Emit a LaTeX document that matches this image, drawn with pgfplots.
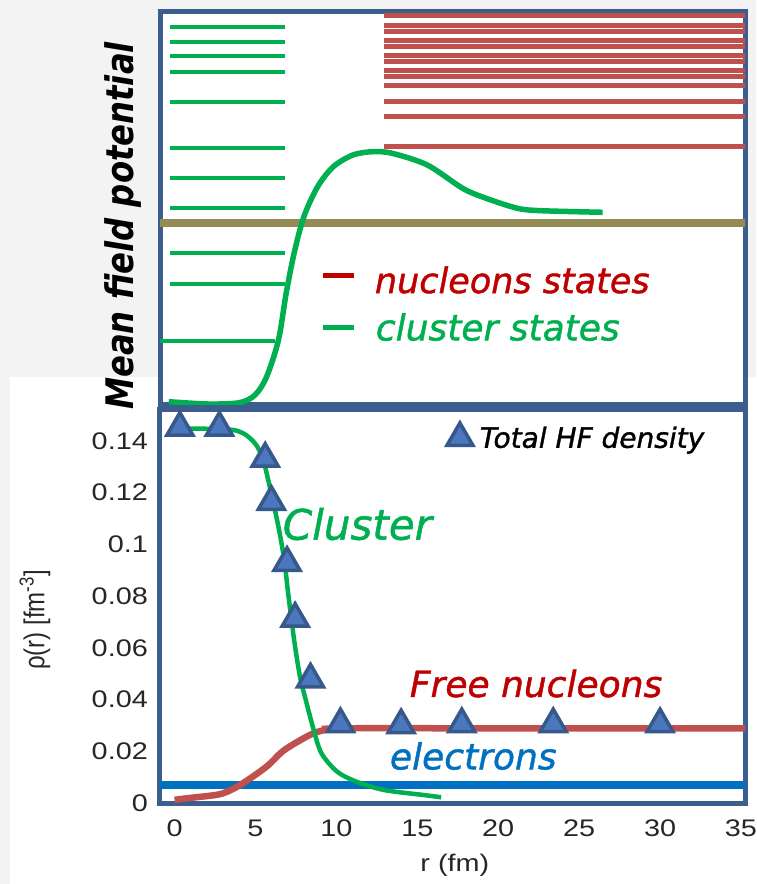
\documentclass[border=0pt]{standalone}
\usepackage{pgfplots}
\pgfplotsset{compat=1.18}
\usepackage{fontspec}
\setmainfont{Liberation Sans}
\newfontfamily\hand{DejaVu Sans}[ItalicFeatures={FakeBold=1.2}]
\definecolor{frameblue}{HTML}{3B5E8F}
\definecolor{cgreen}{HTML}{00B050}
\definecolor{lred}{HTML}{C0504D}
\definecolor{oliveline}{HTML}{948A54}
\definecolor{tred}{HTML}{C00000}
\definecolor{eblue}{HTML}{0070C0}
\definecolor{trifill}{HTML}{4B77BE}
\definecolor{tridraw}{HTML}{36588A}
\definecolor{bggray}{HTML}{F3F3F3}
\definecolor{ticktext}{HTML}{262626}
\begin{document}
\begin{tikzpicture}
\fill[bggray] (0pt,0pt) rectangle (756pt,884pt);
\fill[white] (10pt,0pt) rectangle (756pt,507pt);
\useasboundingbox (0pt,0pt) rectangle (756pt,884pt);

% ---------------- top panel: mean field potential ----------------
\begin{axis}[
  at={(160pt,479pt)}, anchor=south west, scale only axis,
  width=585pt, height=393pt,
  xmin=-0.9, xmax=35.25, ymin=0, ymax=393,
  axis line style={draw=frameblue, line width=5pt},
  ticks=none,
  axis background/.style={fill=white},
]
% cluster states
\pgfplotsinvokeforeach{378.3,363.3,349,333,303,257,227,197,152,121}{
  \addplot[cgreen, line width=4pt] coordinates {(-0.31,#1) (6.85,#1)};
}
\addplot[cgreen, line width=4pt] coordinates {(-0.9,64) (6.18,64)};
% nucleon states
\pgfplotsinvokeforeach{389,379,373,364,358,349,343,334,328,319,303,288,258}{
  \addplot[lred, line width=5pt] coordinates {(12.96,#1) (35.3,#1)};
}
% Fermi level
\addplot[oliveline, line width=8.5pt] coordinates {(-0.9,182) (35.3,182)};
% mean field potential curve
\addplot[cgreen, line width=5.5pt, smooth] coordinates {
 (-0.36,3.3) (2.06,1) (4.0,2.3) (4.97,10) (5.69,28.3) (6.42,65) (6.9,112)
 (7.39,152) (7.99,188.3) (8.84,218.3) (9.81,238.3) (11.02,250) (12.23,253.3)
 (13.44,251.7) (15.62,240) (17.8,216.7) (19.25,206.7) (21.19,196.7)
 (22.65,194.3) (26.45,192.7)};
\draw[tred, line width=5pt] (axis cs:9.15,129) -- (axis cs:11.07,129);
\draw[cgreen, line width=5pt] (axis cs:9.15,77) -- (axis cs:11.07,77);
\node[anchor=west, inner sep=0, text=tred, font=\hand\itshape\fontsize{35}{35}\selectfont]
  at (axis cs:12.37,125) {nucleons states};
\node[anchor=west, inner sep=0, text=cgreen, font=\hand\itshape\fontsize{36}{36}\selectfont]
  at (axis cs:12.43,78) {cluster states};
\end{axis}

% ---------------- bottom panel: densities ----------------
\begin{axis}[
  at={(160pt,81pt)}, anchor=south west, scale only axis,
  width=585pt, height=393pt,
  xmin=-0.9, xmax=35.25, ymin=0, ymax=0.152,
  axis line style={draw=frameblue, line width=5pt},
  xtick={0,5,10,15,20,25,30,35},
  ytick={0,0.02,0.04,0.06,0.08,0.1,0.12,0.14},
  major tick length=0pt,
  scaled y ticks=false,
  /pgf/number format/assume math mode=true,
  yticklabel style={/pgf/number format/fixed, /pgf/number format/precision=2},
  xticklabel={\scalebox{1.2}[1]{\axisdefaultticklabel}},
  yticklabel={\scalebox{1.2}[1]{\axisdefaultticklabel}},
  tick label style={font=\fontsize{24}{24}\selectfont, text=ticktext, inner sep=0pt},
  xticklabel style={anchor=north, yshift=-17pt},
  yticklabel style={anchor=east, xshift=-12pt},
  xlabel={\scalebox{1.2}[1]{r (fm)}},
  ylabel={\scalebox{1}[1.2]{ρ(r) [fm\textsuperscript{-3}]}},
  label style={font=\fontsize{24}{24}\selectfont, text=ticktext},
  xlabel style={at={(axis description cs:0.504,-0.158)}, anchor=center},
  ylabel style={at={(axis description cs:-0.2137,0.466)}, anchor=center},
  clip mode=individual,
  legend style={draw=none, fill=none, at={(0.485,0.931)}, anchor=west,
    font=\hand\itshape\fontsize{28}{28}\selectfont, text=black},
]
\addplot[eblue, line width=8pt, forget plot] coordinates {(-0.9,0.0070) (35.3,0.0070)};
\addplot[lred, line width=6.5pt, smooth, forget plot] coordinates {
 (0,0.0012) (0.85,0.0019) (2.54,0.0031) (3.27,0.0044) (4.24,0.0077)
 (5.69,0.0141) (6.66,0.0199) (7.63,0.0238) (8.6,0.0270) (9.57,0.0286)
 (10.54,0.0289) (20,0.0289) (35.3,0.0289)};
\addplot[cgreen, line width=4.5pt, smooth, forget plot] coordinates {
 (0,0.1449) (3.27,0.1445) (4.24,0.1430) (4.97,0.1391) (5.45,0.1333)
 (5.93,0.1210) (6.42,0.1068) (6.78,0.0940) (7.02,0.0811) (7.39,0.0630)
 (7.75,0.0489) (8.11,0.0398) (8.6,0.0282) (9.08,0.0192) (10.05,0.0121)
 (11.26,0.0082) (12.96,0.0050) (15.38,0.0031) (16.47,0.0022)};
\addplot[only marks, mark=triangle*, mark size=15pt,
  mark options={fill=trifill, draw=tridraw, line width=3.5pt}] coordinates {
 (0.33,0.1452) (2.77,0.1452) (5.6,0.1332) (5.98,0.1165) (6.95,0.0929)
 (7.45,0.0713) (8.4,0.0478) (10.25,0.0305) (14.0,0.0301) (17.75,0.0305)
 (23.4,0.0305) (30.0,0.0305)};
\addlegendentry{\hspace{5pt}Total HF density}
\node[anchor=west, inner sep=0, text=cgreen, font=\hand\itshape\fontsize{42}{42}\selectfont]
  at (axis cs:6.68,0.1079) {Cluster};
\node[anchor=west, inner sep=0, text=tred, font=\hand\itshape\fontsize{36}{36}\selectfont]
  at (axis cs:14.53,0.0462) {Free nucleons};
\node[anchor=west, inner sep=0, text=eblue, font=\hand\itshape\fontsize{36}{36}\selectfont]
  at (axis cs:13.3,0.0182) {electrons};
\end{axis}

\node[rotate=90, anchor=base, inner sep=0] at (133pt,658pt)
  {\scalebox{0.85}[1]{\hand\bfseries\itshape\fontsize{38}{38}\selectfont Mean field potential}};
\end{tikzpicture}
\end{document}
